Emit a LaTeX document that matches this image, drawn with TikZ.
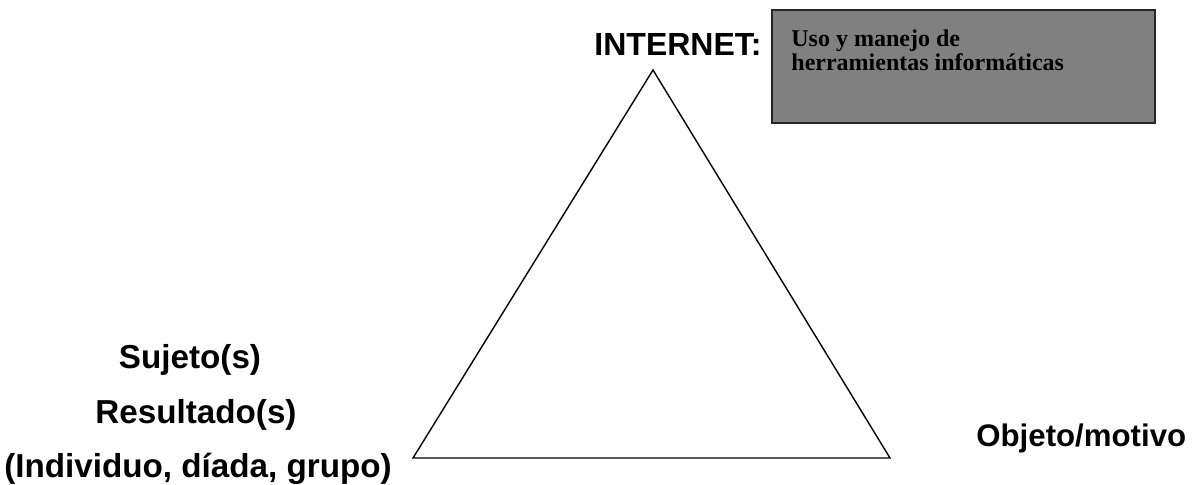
\documentclass[tikz,border=0pt]{standalone}
\usepackage{fontspec}
\setmainfont{Liberation Serif}
\newfontfamily\labelfont{Liberation Sans}
\usepackage{tikz}
\usetikzlibrary{positioning}
\definecolor{toolgray}{rgb}{0.50,0.50,0.50}

\begin{document}
\begin{tikzpicture}[x=0.5pt, y=-0.5pt,
    lbl/.style={font=\labelfont\bfseries\fontsize{16.6}{18}\selectfont, inner sep=0pt}]
    \useasboundingbox (0,0) rectangle (1194,484);
    % triangle
    \coordinate (top) at (653,70);
    \coordinate (left) at (413,458);
    \coordinate (right) at (890,458);
    \draw[line width=0.7pt] (top) -- (right) -- (left) -- cycle;
    % tools box
    \draw[fill=toolgray, draw=black!85, line width=0.9pt] (772,10) rectangle (1155,123);
    \node[anchor=north west, align=left, inner sep=0pt,
          font=\bfseries\fontsize{12}{12}\selectfont] (tools) at (791,29)
        {Uso y manejo de\\herramientas informáticas};
    % labels
    \node[lbl, anchor=east, font=\labelfont\bfseries\fontsize{16}{18}\selectfont] (internet) at (762,44) {INTERNET:};
    \node[lbl] (sujeto) at (190,360) {Sujeto(s)};
    \node[lbl] (result) at (196,415) {Resultado(s)};
    \node[lbl] (grupo) at (198,469) {(Individuo, díada, grupo)};
    \node[lbl, anchor=west, font=\labelfont\bfseries\fontsize{15.6}{18}\selectfont] (objeto) at (976,438) {Objeto/motivo};
\end{tikzpicture}
\end{document}
